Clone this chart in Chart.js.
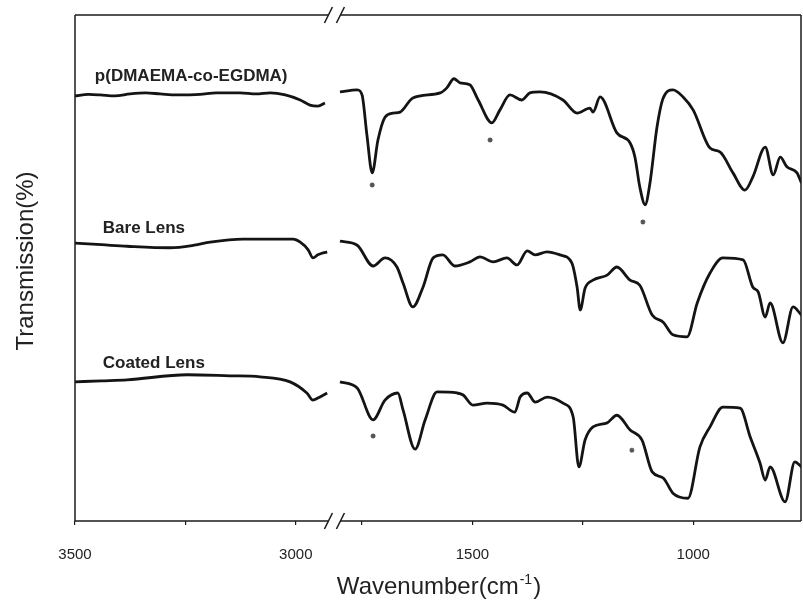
<!DOCTYPE html>
<html>
<head>
<meta charset="utf-8">
<script src="https://cdn.jsdelivr.net/npm/chart.js@4/dist/chart.umd.min.js"></script>
<style>
  html, body { margin: 0; padding: 0; background: #fff; }
  #wrap { width: 803px; height: 601px; }
</style>
</head>
<body>
<div id="wrap"><canvas id="c" width="803" height="601"></canvas></div>
<script>
// ---------- Data (wavenumber in cm^-1, transmission in arbitrary %) ----------
// p(DMAEMA-co-EGDMA)
const pWaveL  = [3500, 3470, 3443, 3410, 3375, 3340, 3307, 3270, 3217, 3180, 3126, 3090, 3058, 3024, 2990, 2968, 2950, 2934];
const pTransL = [84.0, 84.3, 84.2, 84.0, 84.4, 84.6, 84.4, 84.2, 84.3, 84.6, 84.6, 84.4, 84.6, 84.2, 83.2, 82.2, 82.0, 82.6];
const pWaveR  = [1800, 1761, 1750, 1739, 1727, 1714, 1698, 1680, 1664, 1635, 1573, 1558, 1542, 1528, 1506, 1487, 1456, 1438, 1415, 1388,
                 1370, 1347, 1295, 1263, 1234, 1227, 1211, 1173, 1143, 1132, 1121, 1109, 1098, 1082, 1068, 1046, 1023, 1000, 962, 939,
                 910, 883, 865, 837, 819, 803, 788, 765, 755];
const pTransR = [84.8, 85.2, 84.2, 76.3, 68.8, 75.3, 79.8, 80.6, 80.8, 83.6, 84.6, 85.6, 87.4, 86.6, 86.2, 83.2, 78.7, 81.2, 84.2, 83.2,
                 84.6, 84.8, 83.2, 80.6, 81.6, 80.8, 83.8, 76.7, 74.7, 71.9, 66.0, 62.5, 66.8, 77.9, 83.6, 85.2, 83.8, 81.2, 73.7, 72.9,
                 68.8, 65.4, 68.0, 73.9, 68.4, 71.9, 70.0, 68.8, 66.8];

// Bare Lens
const bWaveL  = [3500, 3440, 3382, 3285, 3230, 3194, 3120, 3006, 2990, 2972, 2961, 2950, 2929];
const bTransL = [54.9, 54.6, 54.3, 54.0, 54.5, 55.1, 55.7, 55.7, 55.1, 53.6, 52.0, 52.6, 53.2];
const bWaveR  = [1800, 1761, 1725, 1698, 1671, 1657, 1635, 1612, 1589, 1567, 1540, 1506, 1483, 1453, 1422, 1399, 1376, 1358, 1331, 1302,
                 1275, 1263, 1256, 1245, 1227, 1195, 1173, 1143, 1121, 1093, 1068, 1046, 1014, 991, 962, 933, 887, 865, 853, 837,
                 826, 797, 774, 755];
const bTransR = [55.3, 54.5, 50.4, 52.0, 50.2, 47.0, 42.3, 46.2, 52.0, 52.6, 50.4, 51.2, 52.2, 51.2, 52.0, 50.6, 53.4, 52.6, 53.2, 52.6,
                 51.0, 46.2, 41.7, 46.0, 47.6, 48.6, 50.2, 47.6, 46.6, 40.7, 39.3, 36.8, 36.4, 43.1, 49.0, 52.0, 51.6, 46.2, 45.3, 40.3,
                 43.1, 35.2, 42.3, 40.7];

// Coated Lens
const cWaveL  = [3500, 3440, 3382, 3246, 3150, 3081, 3013, 2975, 2961, 2950, 2929];
const cTransL = [27.5, 27.7, 27.9, 28.9, 28.7, 28.5, 27.5, 25.3, 23.9, 24.3, 25.3];
const cWaveR  = [1800, 1761, 1725, 1698, 1669, 1657, 1630, 1607, 1580, 1535, 1521, 1499, 1467, 1431, 1404, 1392, 1376, 1358, 1331, 1295,
                 1272, 1259, 1245, 1227, 1195, 1173, 1143, 1116, 1093, 1068, 1046, 1012, 985, 962, 933, 894, 871, 849, 837, 826,
                 792, 770, 755];
const cTransR = [27.5, 26.3, 20.0, 23.9, 25.3, 21.9, 14.2, 20.0, 25.5, 25.3, 24.9, 22.9, 23.3, 22.9, 21.5, 24.5, 25.3, 23.5, 24.5, 23.3,
                 20.6, 10.7, 16.0, 18.6, 19.4, 20.9, 18.0, 16.0, 9.7, 8.5, 5.5, 4.5, 14.6, 18.6, 22.5, 22.3, 16.6, 11.5, 8.1, 10.7,
                 3.8, 11.7, 10.7];

// Asterisk marks under assigned bands
const markWave  = [1727, 1460, 1114, 1725, 1139];
const markTrans = [66.4, 75.3, 59.1, 16.8, 14.0];

// Trace names
const traceNames = ['p(DMAEMA-co-EGDMA)', 'Bare Lens', 'Coated Lens'];
const nameWave   = [3455, 3437, 3437];
const nameTrans  = [87.0, 56.9, 30.2];

// Axis ticks (broken axis: 3500-2925 | 1800-756)
const tickWaves    = [3500, 3250, 3000, 1750, 1500, 1250, 1000];
const labeledTicks = [3500, 3000, 1500, 1000];
const leftStart = 3500, leftEnd = 2925, rightStart = 1800, rightEnd = 756, breakGap = 25;

// ---------- Broken axis mapping ----------
const leftSpan = leftStart - leftEnd;
const toU = w => (w > (leftEnd + rightStart) / 2 ? leftStart - w : leftSpan + breakGap + (rightStart - w));
const fromU = u => (u <= leftSpan + breakGap / 2 ? leftStart - u : rightStart - (u - leftSpan - breakGap));
const breakU = leftSpan + breakGap / 2;
const xMax = toU(rightEnd);

function series(wl, tl, wr, tr) {
  const a = wl.map((w, i) => ({ x: toU(w), y: tl[i] }));
  const b = wr.map((w, i) => ({ x: toU(w), y: tr[i] }));
  return [...a, { x: breakU, y: null }, ...b];
}

const lineStyle = {
  borderColor: '#141414', borderWidth: 2.8, pointRadius: 0, fill: false,
  cubicInterpolationMode: 'monotone', spanGaps: false
};

const FONT = '"Liberation Sans", Arial, Helvetica, sans-serif';

const decor = {
  id: 'decor',
  afterDraw(chart) {
    const { ctx, chartArea: { left, right, top, bottom }, scales: { x, y } } = chart;
    const bx = x.getPixelForValue(breakU);
    ctx.save();
    ctx.strokeStyle = '#1a1a1a';
    ctx.lineWidth = 1.5;
    const line = (x1, y1, x2, y2) => { ctx.beginPath(); ctx.moveTo(x1, y1); ctx.lineTo(x2, y2); ctx.stroke(); };
    line(left, top, left, bottom);
    line(right, top, right, bottom);
    for (const yy of [top, bottom]) {
      line(left, yy, bx - 6, yy);
      line(bx + 6, yy, right, yy);
      line(bx - 10, yy + 8, bx - 2, yy - 8);
      line(bx + 2, yy + 8, bx + 10, yy - 8);
    }
    // trace names
    ctx.fillStyle = '#222';
    ctx.font = 'bold 17px ' + FONT;
    ctx.textAlign = 'left';
    ctx.textBaseline = 'alphabetic';
    traceNames.forEach((t, i) => {
      ctx.fillText(t, x.getPixelForValue(toU(nameWave[i])), y.getPixelForValue(nameTrans[i]));
    });
    // y title
    ctx.save();
    ctx.translate(33, (top + bottom) / 2 - 7);
    ctx.rotate(-Math.PI / 2);
    ctx.textAlign = 'center';
    ctx.font = '24px ' + FONT;
    ctx.fillText('Transmission(%)', 0, 0);
    ctx.restore();
    // x title with superscript
    const main = 'Wavenumber(cm', sup = '-1', close = ')';
    ctx.font = '24px ' + FONT;
    const w1 = ctx.measureText(main).width, w3 = ctx.measureText(close).width;
    ctx.font = '14px ' + FONT;
    const w2 = ctx.measureText(sup).width;
    let sx = (left + right) / 2 - (w1 + w2 + w3) / 2;
    const base = 594;
    ctx.textAlign = 'left';
    ctx.font = '24px ' + FONT;
    ctx.fillText(main, sx, base);
    ctx.font = '14px ' + FONT;
    ctx.fillText(sup, sx + w1 + 1, base - 10);
    ctx.font = '24px ' + FONT;
    ctx.fillText(close, sx + w1 + w2 + 2, base);
    ctx.restore();
  }
};

new Chart(document.getElementById('c'), {
  type: 'line',
  data: {
    datasets: [
      { ...lineStyle, data: series(pWaveL, pTransL, pWaveR, pTransR) },
      { ...lineStyle, data: series(bWaveL, bTransL, bWaveR, bTransR) },
      { ...lineStyle, data: series(cWaveL, cTransL, cWaveR, cTransR) },
      { type: 'line', showLine: false, pointStyle: 'star', pointRadius: 2.5,
        pointBorderColor: '#555', pointBorderWidth: 1.3, pointBackgroundColor: '#555',
        data: markWave.map((w, i) => ({ x: toU(w), y: markTrans[i] })) }
    ]
  },
  options: {
    responsive: false,
    animation: false,
    layout: { autoPadding: false, padding: { top: 15, right: 2, left: 0, bottom: 0 } },
    plugins: { legend: { display: false }, tooltip: { enabled: false } },
    scales: {
      x: {
        type: 'linear', min: 0, max: xMax,
        afterBuildTicks: s => { s.ticks = tickWaves.map(w => ({ value: toU(w) })); },
        afterFit: s => { s.height = 80; s.paddingRight = 0; },
        grid: { display: true, drawOnChartArea: false, drawTicks: true, tickLength: 4, color: '#1a1a1a', lineWidth: 1.2 },
        border: { display: false },
        ticks: {
          autoSkip: false, maxRotation: 0, minRotation: 0, padding: 21, color: '#222',
          font: { family: FONT, size: 15 },
          callback: v => { const w = Math.round(fromU(v)); return labeledTicks.includes(w) ? String(w) : ''; }
        }
      },
      y: {
        min: 0, max: 100,
        afterFit: s => { s.width = 75; s.paddingTop = 0; s.paddingBottom = 0; },
        ticks: { display: false },
        grid: { display: false },
        border: { display: false }
      }
    }
  },
  plugins: [decor]
});
</script>
</body>
</html>
